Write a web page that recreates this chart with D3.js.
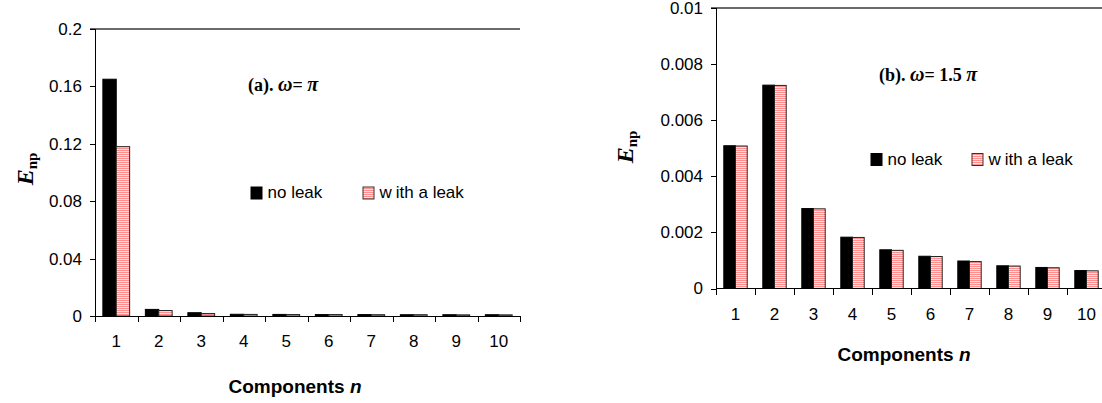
<!DOCTYPE html>
<html>
<head>
<meta charset="utf-8">
<title>E_np components</title>
<script src="https://cdn.jsdelivr.net/npm/d3@7"></script>
<style>
body { margin: 0; background: #fff; }
.tick text { font-family: Arial, "Liberation Sans", sans-serif; font-size: 17px; fill: #000; }
.axis path, .axis line { stroke: #000; shape-rendering: crispEdges; }
.legend text { font-family: Arial, "Liberation Sans", sans-serif; font-size: 17px; }
.xtitle { font-family: Arial, "Liberation Sans", sans-serif; font-size: 19px; font-weight: bold; }
.ptitle { font-family: "Times New Roman", "Liberation Serif", serif; font-size: 18px; font-weight: bold; }
.ytitle { font-family: "Times New Roman", "Liberation Serif", serif; font-weight: bold; }
</style>
</head>
<body>
<div id="chart"></div>
<script>
// data
var components = [1, 2, 3, 4, 5, 6, 7, 8, 9, 10];

// (a) omega = pi
var noLeakA = [0.165, 0.0046, 0.0023, 0.0012, 0.0011, 0.0010, 0.0010, 0.0009, 0.0009, 0.0009];
var leakA   = [0.118, 0.0038, 0.0017, 0.0011, 0.0010, 0.0010, 0.0009, 0.0009, 0.0008, 0.0008];
var yTicksA = [0, 0.04, 0.08, 0.12, 0.16, 0.2];
var yLabelsA = ["0", "0.04", "0.08", "0.12", "0.16", "0.2"];

// (b) omega = 1.5 pi
var noLeakB = [0.00509, 0.00725, 0.00285, 0.00183, 0.00138, 0.00115, 0.00098, 0.00081, 0.00075, 0.00064];
var leakB   = [0.00508, 0.00724, 0.00284, 0.00182, 0.00136, 0.00114, 0.00096, 0.00080, 0.00074, 0.00063];
var yTicksB = [0, 0.002, 0.004, 0.006, 0.008, 0.01];
var yLabelsB = ["0", "0.002", "0.004", "0.006", "0.008", "0.01"];

var seriesNames = ["no leak", "with a leak"];

var W = 1102, H = 403;

var svg = d3.select("#chart").append("svg")
  .attr("width", W).attr("height", H);

svg.append("rect").attr("width", W).attr("height", H).attr("fill", "#fff");

// striped pink fill for the leak series
var defs = svg.append("defs");
var pat = defs.append("pattern")
  .attr("id", "stripes")
  .attr("patternUnits", "userSpaceOnUse")
  .attr("width", 4).attr("height", 2);
pat.append("rect").attr("width", 4).attr("height", 2).attr("fill", "#ffe0e0");
pat.append("rect").attr("width", 4).attr("height", 1).attr("fill", "#ff8f8f");

function panel(o) {
  var x = d3.scaleBand().domain(components)
    .range([o.left, o.right])
    .paddingInner(o.pad).paddingOuter(o.pad / 2);
  var xb = d3.scaleLinear().domain([0, components.length]).range([o.left, o.right]);
  var y = d3.scaleLinear().domain(o.yDomain).range([o.bottom, o.top]);
  var bw = x.bandwidth() / 2;

  var g = svg.append("g");

  // top border of the plot area
  g.append("line")
    .attr("x1", o.left - 5).attr("x2", o.right)
    .attr("y1", y(o.yDomain[1])).attr("y2", y(o.yDomain[1]))
    .attr("stroke", "#3a3a3a").attr("stroke-width", 1.5);

  // bars
  g.selectAll(".b0").data(o.s0).enter().append("rect")
    .attr("x", function (d, i) { return x(components[i]); })
    .attr("y", function (d) { return y(d); })
    .attr("width", bw)
    .attr("height", function (d) { return y(0) - y(d); })
    .attr("fill", "#000").attr("stroke", "#000").attr("stroke-width", 1);

  g.selectAll(".b1").data(o.s1).enter().append("rect")
    .attr("x", function (d, i) { return x(components[i]) + bw; })
    .attr("y", function (d) { return y(d); })
    .attr("width", bw)
    .attr("height", function (d) { return y(0) - y(d); })
    .attr("fill", "url(#stripes)").attr("stroke", "#222").attr("stroke-width", 1);

  // y axis
  g.append("g").attr("class", "axis")
    .attr("transform", "translate(" + o.left + ",0)")
    .call(d3.axisLeft(y).tickValues(o.yTicks).tickSize(5).tickPadding(8)
      .tickFormat(function (d, i) { return o.yLabels[i]; }))
    .select(".domain").attr("d", "M0," + y(o.yDomain[1]) + "V" + y(0));

  // x axis: tick marks between categories
  g.append("g").attr("class", "axis")
    .attr("transform", "translate(0," + y(0) + ")")
    .call(d3.axisBottom(xb).tickValues(d3.range(0, components.length + 1)).tickSize(6).tickFormat(""))
    .select(".domain").attr("d", "M" + o.left + ",0H" + o.right);

  // x labels centred in categories
  var xl = g.append("g").attr("class", "axis")
    .attr("transform", "translate(0," + y(0) + ")")
    .call(d3.axisBottom(x).tickSize(0).tickPadding(o.xPad));
  xl.select(".domain").remove();

  // axis titles
  g.append("text").attr("class", "xtitle")
    .attr("x", o.xTitle[0]).attr("y", o.xTitle[1])
    .attr("text-anchor", "middle")
    .text("Components ")
    .append("tspan").attr("font-style", "italic").text("n");

  var yt = g.append("text").attr("class", "ytitle")
    .attr("transform", "translate(" + o.yTitle[0] + "," + o.yTitle[1] + ") rotate(-90)")
    .attr("text-anchor", "middle");
  yt.append("tspan").attr("font-style", "italic").attr("font-size", 24).text("E");
  yt.append("tspan").attr("font-size", 15).attr("dy", 4).text("np");

  // panel title
  var pt = g.append("text").attr("class", "ptitle")
    .attr("x", o.title[0]).attr("y", o.title[1]);
  pt.append("tspan").text(o.tag + ". ");
  pt.append("tspan").attr("font-style", "italic").attr("font-size", 20).text("\u03c9");
  pt.append("tspan").text("= " + o.omega + " ");
  pt.append("tspan").attr("font-style", "italic").attr("font-size", 20).text("\u03c0");

  // legend
  var lg = g.append("g").attr("class", "legend");
  var lx = [o.legend[0], o.legend[0] + o.legendGap];
  seriesNames.forEach(function (nm, i) {
    lg.append("rect")
      .attr("x", lx[i]).attr("y", o.legend[1] - 11)
      .attr("width", 11).attr("height", 12)
      .attr("fill", i === 0 ? "#000" : "url(#stripes)")
      .attr("stroke", i === 0 ? "#000" : "#333");
    var t = lg.append("text").attr("x", lx[i] + 16.5).attr("y", o.legend[1]);
    if (i === 1) {
      t.append("tspan").text("w");
      t.append("tspan").attr("dx", 4).text("ith a leak");
    } else {
      t.text(nm);
    }
  });
}

panel({
  left: 95, right: 520, top: 29, bottom: 316, pad: 0.37,
  yDomain: [0, 0.2], yTicks: yTicksA, yLabels: yLabelsA,
  s0: noLeakA, s1: leakA, xPad: 19,
  xTitle: [295, 393], yTitle: [33, 169],
  tag: "(a)", omega: "", title: [248, 91],
  legend: [251, 198], legendGap: 112
});

panel({
  left: 716, right: 1106, top: 8, bottom: 288.5, pad: 0.4,
  yDomain: [0, 0.01], yTicks: yTicksB, yLabels: yLabelsB,
  s0: noLeakB, s1: leakB, xPad: 19,
  xTitle: [904, 361], yTitle: [633, 147],
  tag: "(b)", omega: "1.5 ", title: [879, 81],
  legend: [871, 164.5], legendGap: 101
});
</script>
</body>
</html>
